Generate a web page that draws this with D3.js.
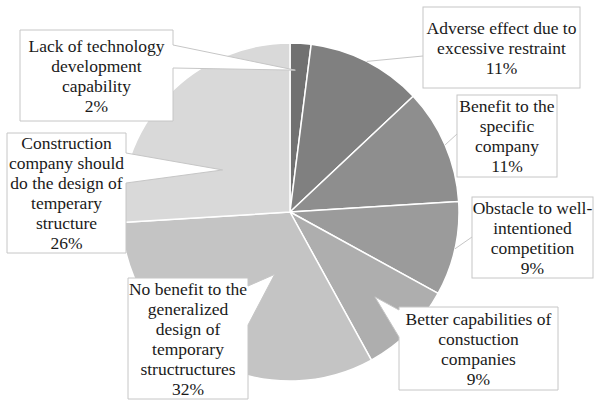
<!DOCTYPE html>
<html>
<head>
<meta charset="utf-8">
<script src="https://cdn.jsdelivr.net/npm/d3@7"></script>
<style>
  html, body { margin: 0; padding: 0; background: #fff; }
  svg { display: block; }
  .lbl { font-family: "Liberation Serif", "Times New Roman", Times, "DejaVu Serif", serif; }
</style>
</head>
<body>
<svg id="chart" width="594" height="401"></svg>
<script>
// Survey responses, clockwise from 12 o'clock
const categories = [
  ["Lack of technology", "development", "capability"],
  ["Adverse effect due to", "excessive restraint"],
  ["Benefit to the", "specific", "company"],
  ["Obstacle to well-", "intentioned", "competition"],
  ["Better capabilities of", "constuction", "companies"],
  ["No benefit to the", "generalized", "design of", "temporary", "structructures"],
  ["Construction", "company should", "do the design of", "temperary", "structure"]
];
const shares = [2, 11, 11, 9, 9, 32, 26];
const fills = ["#717171", "#808080", "#8e8e8e", "#9b9b9b", "#aeaeae", "#c4c4c4", "#d9d9d9"];

const svg = d3.select("#chart");
const cx = 290, cy = 212, R = 169;

const pie = d3.pie().sort(null).value(d => d)(shares);
const arc = d3.arc().innerRadius(0).outerRadius(R);

const g = svg.append("g").attr("transform", `translate(${cx},${cy})`);
g.selectAll("path.slice")
  .data(pie)
  .join("path")
  .attr("class", "slice")
  .attr("d", arc)
  .attr("fill", (d, i) => fills[i])
  .attr("stroke", "#fff")
  .attr("stroke-width", 1.5)
  .attr("stroke-linejoin", "round");

// point inside slice i: t = position along its angular span, k = fraction of radius
function slicePoint(i, t, k) {
  const d = pie[i];
  const a = d.startAngle + (d.endAngle - d.startAngle) * t;
  return [cx + Math.sin(a) * R * k, cy - Math.cos(a) * R * k];
}

// label layout: box, and either a wedge pointer or a leader line
const layout = [
  { box: [20, 30, 153, 91], wedge: { side: "right", b: [45, 68] }, at: [0.3, 0.84] },
  { box: [423, 7, 157, 81], leader: [423, 56], at: [0.5, 1.0] },
  { box: [457, 95, 100, 82], leader: [457, 134], at: [0.5, 1.0] },
  { box: [472, 197, 121, 81], leader: [472, 237], at: [0.5, 1.0] },
  { box: [399, 307, 159, 83], wedge: { side: "left", b: [310, 337] }, at: [0.5, 0.71] },
  { box: [128, 278, 120, 121], wedge: { side: "right", b: [286, 325] }, at: [0.37, 0.38] },
  { box: [7, 133, 119, 120], wedge: { side: "right", b: [153, 183] }, at: [0.38, 0.47] }
];

const labels = svg.append("g")
  .attr("class", "lbl")
  .attr("font-size", 17.5)
  .attr("fill", "#1a1a1a");

layout.forEach((L, i) => {
  const [x, y, w, h] = L.box;
  const tip = slicePoint(i, L.at[0], L.at[1]);
  if (L.wedge) {
    const [b1, b2] = L.wedge.b;
    let p;
    if (L.wedge.side === "right") {
      p = `M${x},${y}H${x + w}V${b1}L${tip[0]},${tip[1]}L${x + w},${b2}V${y + h}H${x}Z`;
    } else {
      p = `M${x},${y}H${x + w}V${y + h}H${x}V${b2}L${tip[0]},${tip[1]}L${x},${b1}Z`;
    }
    labels.append("path")
      .attr("d", p)
      .attr("fill", "#fff")
      .attr("stroke", "#c6c6c6")
      .attr("stroke-width", 1);
  } else {
    labels.append("line")
      .attr("x1", L.leader[0]).attr("y1", L.leader[1])
      .attr("x2", tip[0]).attr("y2", tip[1])
      .attr("stroke", "#c6c6c6")
      .attr("stroke-width", 1);
    labels.append("rect")
      .attr("x", x).attr("y", y).attr("width", w).attr("height", h)
      .attr("fill", "#fff")
      .attr("stroke", "#c6c6c6")
      .attr("stroke-width", 1);
  }
  const lines = categories[i].concat([shares[i] + "%"]);
  const lh = 20;
  const y0 = y + h / 2 - (lines.length - 1) * lh / 2;
  const t = labels.append("text")
    .attr("text-anchor", "middle")
    .attr("dominant-baseline", "central");
  lines.forEach((s, j) => {
    t.append("tspan")
      .attr("x", x + w / 2)
      .attr("y", y0 + j * lh)
      .text(s);
  });
});
</script>
</body>
</html>
